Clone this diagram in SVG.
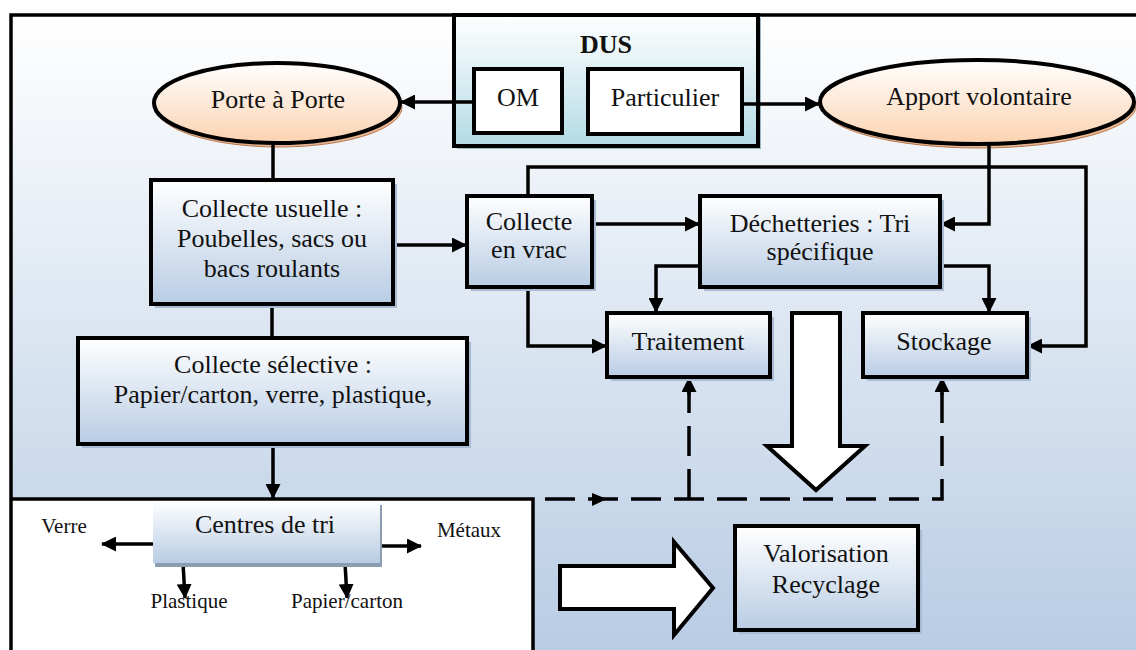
<svg xmlns="http://www.w3.org/2000/svg" width="1136" height="650" viewBox="0 0 1136 650">
<defs>
<linearGradient id="bg" x1="0" y1="15" x2="0" y2="650" gradientUnits="userSpaceOnUse"><stop offset="0" stop-color="#ffffff"/><stop offset="1" stop-color="#b8cce4"/></linearGradient>
<linearGradient id="gbox" x1="0" y1="0" x2="0" y2="1"><stop offset="0" stop-color="#ffffff"/><stop offset="1" stop-color="#b8cce4"/></linearGradient>
<linearGradient id="gell" x1="0" y1="0" x2="0" y2="1"><stop offset="0" stop-color="#ffffff"/><stop offset="1" stop-color="#fbd2b0"/></linearGradient>
<linearGradient id="gdus" x1="0" y1="0" x2="0" y2="1"><stop offset="0" stop-color="#ffffff"/><stop offset="1" stop-color="#b4dbe6"/></linearGradient>
<marker id="ah" viewBox="0 0 15 15" markerWidth="15" markerHeight="15" refX="14" refY="7.5" orient="auto" markerUnits="userSpaceOnUse"><path d="M0,0 L15,7.5 L0,15 z" fill="#000"/></marker>
</defs>
<style>
.box{fill:url(#gbox);stroke:#000;stroke-width:4}
.sh{fill:#a9bbd3}
.ell{fill:url(#gell);stroke:#000;stroke-width:4}
.ellsh{fill:#e6b792;stroke:#b97a52;stroke-width:1}
.t{font-family:"Liberation Serif","Times New Roman",serif;font-size:26px;fill:#111;text-anchor:middle}
.s{font-size:21px}
.c{fill:none;stroke:#000;stroke-width:3.5}
.a{marker-end:url(#ah)}
.d{stroke-dasharray:30 13}
.big{fill:#fff;stroke:#000;stroke-width:4}
.frame{fill:none;stroke:#000;stroke-width:3.5}
</style>

<g id="background">
<rect x="0" y="0" width="1136" height="650" fill="#ffffff"/>
<rect x="11" y="15" width="1125" height="635" fill="url(#bg)"/>
<rect x="11" y="499" width="522" height="151" fill="#ffffff"/>
<path class="frame" d="M1136,15 H11 V650 M11,499 H533 V650"/>
</g>

<g id="dus">
<rect x="457" y="18" width="304" height="131" fill="#9bb9c4"/>
<rect x="454" y="15" width="304" height="131" fill="url(#gdus)" stroke="#000" stroke-width="4"/>
<text class="t" x="606" y="53" font-weight="bold">DUS</text>
</g>
<g id="om">
<rect x="474" y="69" width="88" height="64" fill="#fff" stroke="#000" stroke-width="4"/>
<text class="t" x="518" y="106">OM</text>
</g>
<g id="particulier">
<rect x="588" y="69" width="154" height="65" fill="#fff" stroke="#000" stroke-width="4"/>
<text class="t" x="665" y="106">Particulier</text>
</g>

<g id="porte">
<ellipse class="ellsh" cx="279" cy="107" rx="123" ry="40"/>
<ellipse class="ell" cx="277" cy="103" rx="123" ry="40"/>
<text class="t" x="278" y="108">Porte à Porte</text>
</g>
<g id="apport">
<ellipse class="ellsh" cx="979" cy="106" rx="157" ry="42"/>
<ellipse class="ell" cx="977" cy="102" rx="157" ry="42"/>
<text class="t" x="979" y="105">Apport volontaire</text>
</g>

<g id="connectors">
<path class="c a" d="M474,102 H401"/>
<path class="c a" d="M742,104 H819"/>
<path class="c" d="M273,144 V180"/>
<path class="c" d="M272,304 V338"/>
<path class="c a" d="M393,245 H466"/>
<path class="c a" d="M273,444 V498"/>
<path class="c a" d="M528,196 V167 H1086 V346 H1028"/>
<path class="c a" d="M989,144 V224 H941"/>
<path class="c a" d="M592,224 H699"/>
<path class="c a" d="M700,266 H656 V312"/>
<path class="c a" d="M940,266 H989 V312"/>
<path class="c a" d="M528,287 V346 H606"/>
<path class="c d" d="M545,499 H942 V392"/>
<path class="c d" d="M689,499 V392"/>
<path class="c a" d="M689,395 V378"/>
<path class="c a" d="M942,395 V378"/>
<polygon points="592,493 607,499 592,506" fill="#000"/>
<path class="c a" d="M153,544 H102"/>
<path class="c a" d="M380,546 H421"/>
<path class="c a" d="M183,563 L185,598"/>
<path class="c a" d="M345,563 L347,598"/>
</g>

<g id="collecte-usuelle">
<rect class="sh" x="155" y="184" width="242" height="124"/>
<rect class="box" x="151" y="180" width="242" height="124"/>
<text class="t" x="272" y="217">Collecte usuelle :</text>
<text class="t" x="272" y="247">Poubelles, sacs ou</text>
<text class="t" x="272" y="277">bacs roulants</text>
</g>
<g id="collecte-selective">
<rect class="sh" x="82" y="342" width="389" height="106"/>
<rect class="box" x="78" y="338" width="389" height="106"/>
<text class="t" x="273" y="373">Collecte sélective :</text>
<text class="t" x="273" y="403">Papier/carton, verre, plastique,</text>
</g>
<g id="collecte-vrac">
<rect class="sh" x="471" y="200" width="125" height="91"/>
<rect class="box" x="467" y="196" width="125" height="91"/>
<text class="t" x="529" y="230">Collecte</text>
<text class="t" x="529" y="258">en vrac</text>
</g>
<g id="dechetteries">
<rect class="sh" x="704" y="200" width="240" height="91"/>
<rect class="box" x="700" y="196" width="240" height="91"/>
<text class="t" x="820" y="232">Déchetteries : Tri</text>
<text class="t" x="820" y="260">spécifique</text>
</g>
<g id="traitement">
<rect class="sh" x="611" y="317" width="163" height="64"/>
<rect class="box" x="607" y="313" width="163" height="64"/>
<text class="t" x="688" y="350">Traitement</text>
</g>
<g id="stockage">
<rect class="sh" x="867" y="317" width="164" height="64"/>
<rect class="box" x="863" y="313" width="164" height="64"/>
<text class="t" x="944" y="350">Stockage</text>
</g>

<g id="big-down-arrow">
<polygon class="big" points="792,313 840,313 840,446 865,446 816,490 767,446 792,446"/>
</g>
<g id="big-right-arrow">
<polygon class="big" points="560,566 674,566 674,542 713,588 674,635 674,609 560,609"/>
</g>

<g id="valorisation">
<rect class="sh" x="739" y="530" width="183" height="104"/>
<rect class="box" x="735" y="526" width="183" height="104"/>
<text class="t" x="826" y="562">Valorisation</text>
<text class="t" x="826" y="593">Recyclage</text>
</g>

<g id="centres-de-tri">
<rect x="155" y="505" width="227" height="62" fill="#8d9db1"/>
<rect x="153" y="501" width="227" height="62" fill="url(#gbox)"/>
<text class="t" x="265" y="533">Centres de tri</text>
</g>
<g id="labels">
<text class="t s" x="64" y="533">Verre</text>
<text class="t s" x="469" y="537">Métaux</text>
<text class="t s" x="189" y="608">Plastique</text>
<text class="t s" x="347" y="608">Papier/carton</text>
</g>
</svg>
